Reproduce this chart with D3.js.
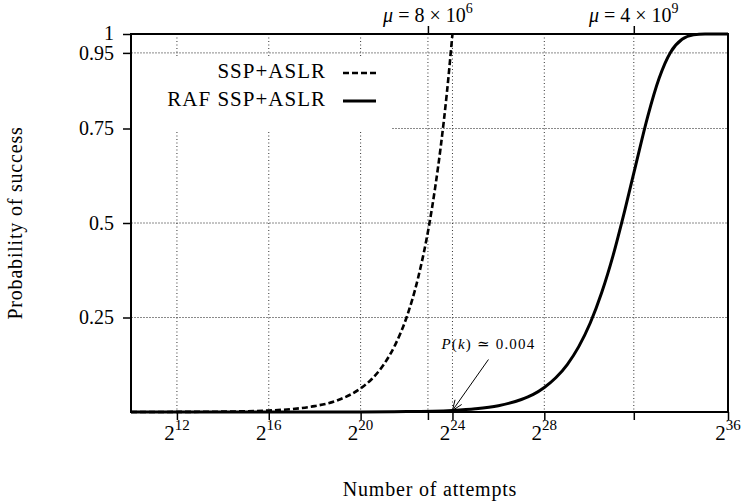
<!DOCTYPE html>
<html>
<head>
<meta charset="utf-8">
<script src="https://cdn.jsdelivr.net/npm/d3@7"></script>
<style>
  html, body { margin: 0; padding: 0; background: #fff; }
  svg { display: block; }
  text { font-family: "Liberation Serif", "DejaVu Serif", serif; fill: #000; }
</style>
</head>
<body>
<svg id="chart" width="741" height="503"></svg>
<script>
// Number of attempts, as powers of two, and the probability of success.
const sspExp = [10, 12, 14, 16, 17, 18, 19, 20, 20.5, 21, 21.5, 22, 22.5, 23, 23.25, 23.5, 23.75, 24];
const sspP   = [0.00006, 0.00024, 0.001, 0.0039, 0.0078, 0.0156, 0.031, 0.0625, 0.088, 0.125, 0.177, 0.25, 0.354, 0.5, 0.595, 0.707, 0.84, 1];

const rafExp = [10, 16, 20, 22, 24, 25, 26, 27, 27.5, 28, 28.5, 29, 29.5, 30, 30.5, 31, 31.5, 32, 32.5, 33, 33.5, 34, 34.5, 35, 35.5, 36];
const rafP   = [0, 0.00002, 0.0003, 0.001, 0.0042, 0.0084, 0.0166, 0.033, 0.046, 0.065, 0.0905, 0.1256, 0.173, 0.2354, 0.316, 0.415, 0.532, 0.658, 0.781, 0.883, 0.952, 0.986, 0.9977, 0.9998, 1, 1];

// Axis ticks
const xTickExp = [12, 16, 20, 24, 28, 36];
const muValues = [8e6, 4e9];
const muMantissa = ["8", "4"];
const muPower = ["6", "9"];
const yTicks = [0.25, 0.5, 0.75, 0.95, 1];

// Legend entries and annotation
const seriesNames = ["SSP+ASLR", "RAF SSP+ASLR"];
const notePoint = { exp: 24, p: 0.004 };

const svg = d3.select("#chart");
const plotLeft = 131, plotRight = 728, plotTop = 34, plotBottom = 412;

const x = d3.scaleLog().base(2).domain([2 ** 10, 2 ** 36]).range([plotLeft, plotRight]);
const y = d3.scaleLinear().domain([0, 1]).range([plotBottom, plotTop]);

// Grid
const grid = svg.append("g");
yTicks.filter(v => v < 1).forEach(v => {
  grid.append("line")
    .attr("x1", plotLeft).attr("x2", plotRight)
    .attr("y1", y(v)).attr("y2", y(v))
    .attr("stroke", "#8a8a8a").attr("stroke-width", 1)
    .attr("stroke-dasharray", "2,1");
});
const vGrid = xTickExp.filter(e => e < 36).map(e => 2 ** e).concat(muValues);
vGrid.forEach(v => {
  grid.append("line")
    .attr("x1", x(v)).attr("x2", x(v))
    .attr("y1", plotTop).attr("y2", plotBottom)
    .attr("stroke", "#333").attr("stroke-width", 1)
    .attr("stroke-dasharray", "1,2.5");
});

// Opaque key box
svg.append("rect")
  .attr("x", plotLeft + 1).attr("y", 56)
  .attr("width", 259).attr("height", 76)
  .attr("fill", "#fff");

// Curves
const line = d3.line()
  .x(d => x(2 ** d[0]))
  .y(d => y(d[1]))
  .curve(d3.curveMonotoneX);

svg.append("path")
  .datum(rafExp.map((e, i) => [e, rafP[i]]))
  .attr("d", line)
  .attr("fill", "none").attr("stroke", "#000")
  .attr("stroke-width", 3).attr("stroke-linejoin", "round");

svg.append("path")
  .datum(sspExp.map((e, i) => [e, sspP[i]]))
  .attr("d", line)
  .attr("fill", "none").attr("stroke", "#000")
  .attr("stroke-width", 2.6).attr("stroke-dasharray", "6,3");

// Frame
svg.append("rect")
  .attr("x", plotLeft).attr("y", plotTop)
  .attr("width", plotRight - plotLeft).attr("height", plotBottom - plotTop)
  .attr("fill", "none").attr("stroke", "#000").attr("stroke-width", 2);

// Bottom axis
const xAxis = d3.axisBottom(x)
  .tickValues(xTickExp.map(e => 2 ** e).concat(muValues))
  .tickSize(8).tickSizeOuter(0).tickFormat(() => "");
const gx = svg.append("g").attr("transform", `translate(0,${plotBottom})`).call(xAxis);
gx.select(".domain").remove();
gx.selectAll(".tick line").attr("stroke", "#000").attr("stroke-width", 1.5);
gx.selectAll(".tick text").remove();

xTickExp.forEach(e => {
  const t = svg.append("text")
    .attr("x", x(2 ** e)).attr("y", 440)
    .attr("text-anchor", "middle")
    .attr("font-size", 21);
  t.append("tspan").text("2");
  t.append("tspan").attr("font-size", 15).attr("dy", -10).text(String(e));
});

// Top axis: means
const xTop = d3.axisTop(x).tickValues(muValues).tickSize(8).tickSizeOuter(0).tickFormat(() => "");
const gt = svg.append("g").attr("transform", `translate(0,${plotTop})`).call(xTop);
gt.select(".domain").remove();
gt.selectAll(".tick line").attr("stroke", "#000").attr("stroke-width", 1.5);
gt.selectAll(".tick text").remove();

muValues.forEach((m, i) => {
  const t = svg.append("text")
    .attr("x", x(m)).attr("y", 22)
    .attr("text-anchor", "middle")
    .attr("font-size", 20);
  t.append("tspan").attr("font-style", "italic").text("μ");
  t.append("tspan").text(` = ${muMantissa[i]} × 10`);
  t.append("tspan").attr("font-size", 14).attr("dy", -9).text(muPower[i]);
});

// Left axis
const yAxis = d3.axisLeft(y).tickValues(yTicks).tickSize(8).tickSizeOuter(0).tickFormat(d => String(d));
const gy = svg.append("g").attr("transform", `translate(${plotLeft},0)`).call(yAxis);
gy.select(".domain").remove();
gy.selectAll(".tick line").attr("stroke", "#000").attr("stroke-width", 1.5);
gy.selectAll(".tick text")
  .attr("x", -17)
  .attr("font-size", 20)
  .attr("font-family", "Liberation Serif, serif")
  .attr("fill", "#000");
gy.selectAll(".tick text").filter(d => d === 1).attr("dy", "0.25em");

// Axis titles
svg.append("text")
  .attr("x", 430).attr("y", 496)
  .attr("text-anchor", "middle").attr("font-size", 20)
  .attr("letter-spacing", 0.8)
  .text("Number of attempts");

svg.append("text")
  .attr("transform", "translate(22,223) rotate(-90)")
  .attr("text-anchor", "middle").attr("font-size", 20)
  .attr("letter-spacing", 0.8)
  .text("Probability of success");

// Key
const keyRows = [
  { name: seriesNames[0], dash: "6,3", width: 2.6, y: 73 },
  { name: seriesNames[1], dash: null, width: 3, y: 101 }
];
keyRows.forEach(r => {
  svg.append("text")
    .attr("x", 326).attr("y", r.y + 5)
    .attr("text-anchor", "end").attr("font-size", 21)
    .attr("letter-spacing", 1)
    .text(r.name);
  svg.append("line")
    .attr("x1", 343).attr("x2", 376)
    .attr("y1", r.y).attr("y2", r.y)
    .attr("stroke", "#000").attr("stroke-width", r.width)
    .attr("stroke-dasharray", r.dash);
});

// Annotation with arrow
const tipX = x(2 ** notePoint.exp), tipY = y(notePoint.p);
const tailX = tipX + 36, tailY = tipY - 51;
svg.append("line")
  .attr("x1", tailX).attr("y1", tailY).attr("x2", tipX).attr("y2", tipY)
  .attr("stroke", "#000").attr("stroke-width", 1);
const ang = Math.atan2(tipY - tailY, tipX - tailX);
const headLen = 11, spread = 0.38;
[ang + Math.PI - spread, ang + Math.PI + spread].forEach(a => {
  svg.append("line")
    .attr("x1", tipX).attr("y1", tipY)
    .attr("x2", tipX + headLen * Math.cos(a)).attr("y2", tipY + headLen * Math.sin(a))
    .attr("stroke", "#000").attr("stroke-width", 1);
});
const note = svg.append("text")
  .attr("x", tailX).attr("y", tailY - 10)
  .attr("text-anchor", "middle").attr("font-size", 15)
  .attr("letter-spacing", 1.2);
note.append("tspan").attr("font-style", "italic").text("P");
note.append("tspan").text("(");
note.append("tspan").attr("font-style", "italic").text("k");
note.append("tspan").text(") ≃ 0.004");
</script>
</body>
</html>
